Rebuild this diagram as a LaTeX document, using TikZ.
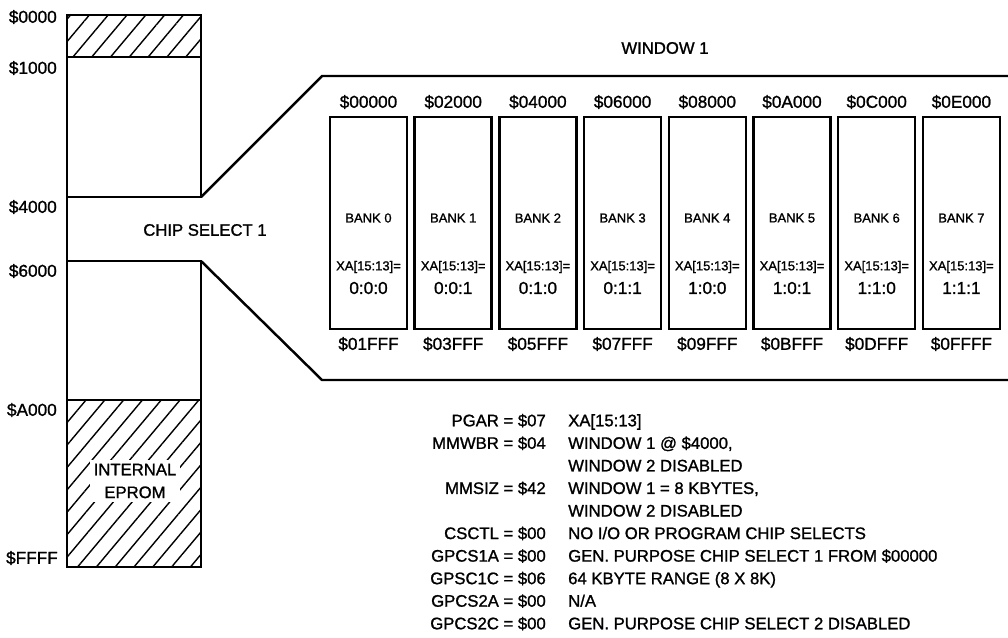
\documentclass[tikz,border=0pt]{standalone}
\usepackage{fontspec}
\setmainfont{Liberation Sans}[FakeBold=1.2]
\usetikzlibrary{patterns.meta}

\tikzset{
  hatch/.style={pattern={Lines[angle=50,distance=8.2pt,line width=0.8pt]}},
  addr/.style={font=\fontsize{9.8}{12}\selectfont},
  bankbox/.style={draw,line width=1.4pt,minimum width=1.54cm,minimum height=4.24cm},
  small/.style={font=\fontsize{7.4}{9}\selectfont},
  note/.style={font=\fontsize{9.5}{12}\selectfont,inner sep=0pt}
}

\begin{document}
\begin{tikzpicture}[x=0.02cm,y=-0.02cm,line width=1.4pt]
\useasboundingbox (0,0) rectangle (1008,637);
\draw[hatch] (67,15) rectangle (201,57);
\draw (67,57) rectangle (201,197);
\draw (201,197) -- (322,76) -- (1008,76);
\draw[line width=0.6pt] (67,197) -- (67,261);
\draw (67,261) rectangle (201,400);
\draw (201,261) -- (322,380) -- (1008,380);
\draw[hatch] (67,400) rectangle (201,567);
\node[note,fill=white,inner sep=2pt,align=center] (eprom) at (135,481) {INTERNAL\\[1pt]EPROM};
\node[addr,inner sep=0pt,anchor=east] (a0) at (58,17) {\$0000};
\node[addr,inner sep=0pt,anchor=east] (a1) at (58,68) {\$1000};
\node[addr,inner sep=0pt,anchor=east] (a4) at (58,207) {\$4000};
\node[addr,inner sep=0pt,anchor=east] (a6) at (58,271) {\$6000};
\node[addr,inner sep=0pt,anchor=east] (aa) at (58,410) {\$A000};
\node[addr,inner sep=0pt,anchor=east] (af) at (59,558) {\$FFFF};
\node[note] (cs) at (205,230) {CHIP SELECT 1};
\node[note] (win) at (665,48) {WINDOW 1};
\foreach \lo/\hi/\v [count=\i from 0] in {00000/01FFF/0:0:0,02000/03FFF/0:0:1,04000/05FFF/0:1:0,06000/07FFF/0:1:1,08000/09FFF/1:0:0,0A000/0BFFF/1:0:1,0C000/0DFFF/1:1:0,0E000/0FFFF/1:1:1}{
  \node[bankbox] (b\i) at (368.5+84.7*\i,223) {};
  \node[addr] at (368.5+84.7*\i,102) {\$\lo};
  \node[addr] at (368.5+84.7*\i,344) {\$\hi};
  \node[small] at (368.5+84.7*\i,218) {BANK \i};
  \node[small] at (368.5+84.7*\i,267) {XA[15:13]=};
  \node[addr] at (368.5+84.7*\i,288) {\v};
}
\foreach \k/\d [count=\i from 0] in {{PGAR = \$07}/{XA[15:13]},{MMWBR = \$04}/{WINDOW 1 @ \$4000,},{}/{WINDOW 2 DISABLED},{MMSIZ = \$42}/{WINDOW 1 = 8 KBYTES,},{}/{WINDOW 2 DISABLED},{CSCTL = \$00}/{NO I/O OR PROGRAM CHIP SELECTS},{GPCS1A = \$00}/{GEN. PURPOSE CHIP SELECT 1 FROM \$00000},{GPSC1C = \$06}/{64 KBYTE RANGE (8 X 8K)},{GPCS2A = \$00}/{N/A},{GPCS2C = \$00}/{GEN. PURPOSE CHIP SELECT 2 DISABLED}}{
  \node[note,anchor=base east] at (547,426.3+22.55*\i) {\k};
  \node[note,anchor=base west] at (567,426.3+22.55*\i) {\d};
}
\end{tikzpicture}
\end{document}
